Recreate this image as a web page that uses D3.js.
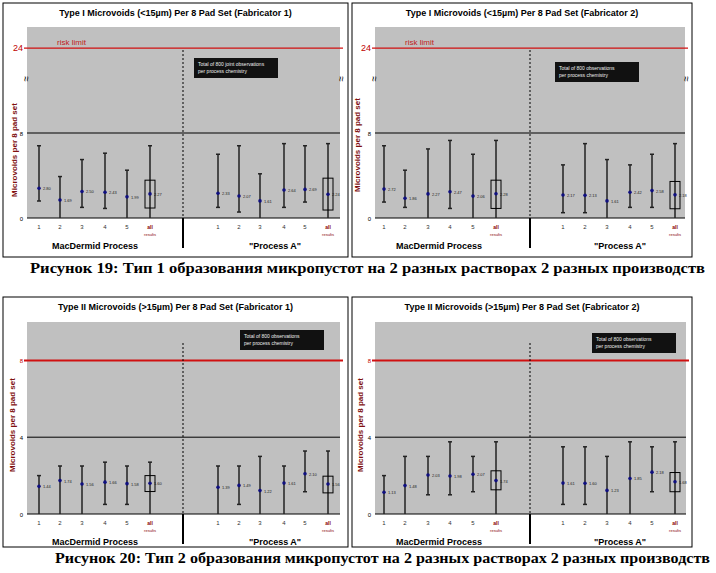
<!DOCTYPE html>
<html><head><meta charset="utf-8">
<script src="https://cdn.jsdelivr.net/npm/d3@7"></script>
<style>body{margin:0;background:#fff}</style>
</head><body>
<svg id="c" width="716" height="573"></svg>
<script>
var cats = ["1", "2", "3", "4", "5", "all"];
var groups = ["MacDermid Process", "\"Process A\""];

// mean, low, high per category; box low/high for "all"
var p1Mean = [2.80, 1.69, 2.50, 2.43, 1.99, 2.27, 2.33, 2.07, 1.61, 2.64, 2.69, 2.24];
var p1Low  = [1.6, 0, 1.0, 0.9, 0, 0, 1.0, 0.56, 0, 1.0, 1.5, 0];
var p1High = [6.8, 3.9, 5.5, 6.1, 4.5, 6.8, 6.0, 6.8, 4.16, 7.0, 6.8, 7.0];
var p1Box  = [[0.94, 3.56], [0.75, 3.75]];

var p2Mean = [2.72, 1.86, 2.27, 2.47, 2.06, 2.28, 2.17, 2.13, 1.61, 2.42, 2.58, 2.18];
var p2Low  = [1.5, 1.0, 0, 0.9, 0, 0, 0.5, 0.5, 0, 1.0, 1.0, 0];
var p2High = [6.8, 4.5, 6.5, 7.3, 6.0, 7.3, 5.0, 7.0, 5.5, 5.0, 6.0, 7.0];
var p2Box  = [[0.9, 3.56], [0.87, 3.44]];

var p3Mean = [1.44, 1.74, 1.56, 1.66, 1.58, 1.60, 1.39, 1.49, 1.22, 1.61, 2.10, 1.56];
var p3Low  = [0, 0, 0, 0.5, 0.5, 0, 0, 0.5, 0, 0, 1.16, 0];
var p3High = [2.0, 2.5, 2.5, 2.7, 2.5, 2.7, 2.5, 2.5, 3.0, 2.5, 3.28, 3.28];
var p3Box  = [[1.17, 2.0], [1.1, 1.97]];

var p4Mean = [1.13, 1.48, 2.03, 1.98, 2.07, 1.74, 1.61, 1.60, 1.23, 1.85, 2.18, 1.68];
var p4Low  = [0, 0, 1.0, 1.0, 1.16, 0, 0.5, 0.5, 0, 0, 1.16, 0];
var p4High = [2.0, 3.0, 3.0, 3.76, 3.0, 3.76, 3.5, 3.5, 3.0, 3.76, 3.5, 3.76];
var p4Box  = [[1.26, 2.25], [1.16, 2.16]];

var svg = d3.select("#c");
var font = "'Liberation Sans', Arial, sans-serif";

function panel(o) {
    var g = svg.append("g");
    g.append("rect").attr("x", o.bx).attr("y", o.by).attr("width", o.bw).attr("height", o.bh)
        .attr("fill", "#fff").attr("stroke", "#000");
    g.append("text").attr("x", o.bx + o.bw / 2).attr("y", o.by + 13).attr("text-anchor", "middle")
        .attr("font-family", font).attr("font-size", 9).attr("font-weight", "bold").text(o.title);
    g.append("rect").attr("x", o.x0).attr("y", o.top).attr("width", o.x1 - o.x0).attr("height", o.bottom - o.top)
        .attr("fill", "#c0c0c0");

    var y = d3.scaleLinear().domain(o.ydom).range(o.yrng);
    var xpos = function (i) { return o.xs[i]; };

    // grid lines
    g.append("line").attr("x1", o.x0).attr("x2", o.x1).attr("y1", y(o.mid)).attr("y2", y(o.mid)).attr("stroke", "#000");
    g.append("line").attr("x1", o.x0 - 3).attr("x2", o.x1 + 3).attr("y1", y(o.limit)).attr("y2", y(o.limit))
        .attr("stroke", "#d01010").attr("stroke-width", o.limitW);
    if (o.risk) g.append("text").attr("x", o.x0 + 30).attr("y", y(o.limit) - 3).attr("fill", "#c02020")
        .attr("font-family", font).attr("font-size", 8).text("risk limit");

    // axis labels
    [[0, "#000"], [o.mid, "#000"], [o.limit, "#c00000"]].forEach(function (t) {
        g.append("text").attr("x", o.x0 - 4).attr("y", y(t[0]) + 3).attr("text-anchor", "end")
            .attr("font-family", font).attr("font-size", t[0] === o.limit && o.risk ? 9 : 6).attr("fill", t[1]).text(t[0]);
    });
    g.append("line").attr("x1", o.x0).attr("x2", o.x1).attr("y1", o.bottom).attr("y2", o.bottom).attr("stroke", "#000");
    if (o.risk) {
        [o.x0 - 1, o.x1 + 1].forEach(function (bx) {
            g.append("text").attr("x", bx).attr("y", o.top + 52).attr("font-family", font).attr("font-size", 10)
                .attr("fill", "#000").attr("dominant-baseline", "middle")
                .attr("transform", "rotate(90," + bx + "," + (o.top + 52) + ")").attr("text-anchor", "middle").text("≈");
        });
    }
    g.append("text").attr("transform", "translate(" + o.ylx + "," + o.yly + ") rotate(-90)")
        .attr("text-anchor", "middle").attr("font-family", font).attr("font-size", 8).attr("font-weight", "bold")
        .attr("fill", "#801010").text("Microvoids per 8 pad set");

    // divider
    g.append("line").attr("x1", o.div).attr("x2", o.div).attr("y1", o.dashTop).attr("y2", o.bottom)
        .attr("stroke", "#000").attr("stroke-dasharray", "2,2");
    g.append("line").attr("x1", o.div).attr("x2", o.div).attr("y1", o.bottom).attr("y2", o.bottom + 30)
        .attr("stroke", "#000").attr("stroke-width", 2);

    // note box
    g.append("rect").attr("x", o.note[0]).attr("y", o.note[1]).attr("width", 84).attr("height", 20).attr("fill", "#111");
    g.append("text").attr("x", o.note[0] + 4).attr("y", o.note[1] + 8).attr("fill", "#eee")
        .attr("font-family", font).attr("font-size", 5).text(o.noteText);
    g.append("text").attr("x", o.note[0] + 4).attr("y", o.note[1] + 15).attr("fill", "#eee")
        .attr("font-family", font).attr("font-size", 5).text("per process   chemistry");

    // error bars
    o.mean.forEach(function (m, i) {
        var x = xpos(i);
        g.append("line").attr("x1", x).attr("x2", x).attr("y1", y(o.low[i])).attr("y2", y(o.high[i]))
            .attr("stroke", "#222").attr("stroke-width", 1.5);
        [o.low[i], o.high[i]].forEach(function (v) {
            if (v > 0) g.append("line").attr("x1", x - 2).attr("x2", x + 2).attr("y1", y(v)).attr("y2", y(v))
                .attr("stroke", "#222").attr("stroke-width", 1.5);
        });
        g.append("circle").attr("cx", x).attr("cy", y(m)).attr("r", 1.8).attr("fill", "#101080");
        g.append("text").attr("x", x + 4).attr("y", y(m) + 2).attr("font-family", font).attr("font-size", 4)
            .attr("fill", "#222").text(m.toFixed(2));
        var ci = i % 6;
        g.append("text").attr("x", x).attr("y", o.bottom + 11).attr("text-anchor", "middle").attr("font-family", font)
            .attr("font-size", ci === 5 ? 5 : 6).attr("font-weight", ci === 5 ? "bold" : "normal")
            .attr("fill", ci === 5 ? "#800" : "#333").text(cats[ci]);
        if (ci === 5) {
            g.append("text").attr("x", x).attr("y", o.bottom + 18).attr("text-anchor", "middle").attr("font-family", font)
                .attr("font-size", 4).attr("fill", "#800").text("results");
            var b = o.box[Math.floor(i / 6)];
            g.append("rect").attr("x", x - 5).attr("y", y(b[1])).attr("width", 10).attr("height", y(b[0]) - y(b[1]))
                .attr("fill", "none").attr("stroke", "#000");
        }
    });

    groups.forEach(function (gr, k) {
        g.append("text").attr("x", o.gx[k]).attr("y", o.bottom + 31).attr("text-anchor", "middle")
            .attr("font-family", font).attr("font-size", 9).attr("font-weight", "bold").text(gr);
    });
}

var xsA = [39, 60, 82, 105, 127, 150, 218, 239, 260, 284, 305, 328];
var xsB = [384, 405, 428, 450, 473, 496, 563, 585, 607, 630, 652, 675];

panel({bx: 3, by: 3, bw: 345, bh: 254, title: "Type I Microvoids (<15µm) Per 8 Pad Set (Fabricator 1)",
    x0: 27, x1: 340, top: 27, bottom: 218, ydom: [0, 8, 28], yrng: [218, 133, 27], mid: 8, limit: 24, limitW: 1.2, risk: true,
    xs: xsA, div: 183, dashTop: 50, note: [194, 58], noteText: "Total of 800 joint observations",
    ylx: 17, yly: 150, gx: [95, 275],
    mean: p1Mean, low: p1Low, high: p1High, box: p1Box});
panel({bx: 352, by: 3, bw: 340, bh: 254, title: "Type I Microvoids (<15µm) Per 8 Pad Set (Fabricator 2)",
    x0: 375, x1: 685, top: 27, bottom: 218, ydom: [0, 8, 28], yrng: [218, 133, 27], mid: 8, limit: 24, limitW: 1.2, risk: true,
    xs: xsB, div: 530, dashTop: 50, note: [555, 62], noteText: "Total of 800 observations",
    ylx: 360, yly: 145, gx: [439, 620],
    mean: p2Mean, low: p2Low, high: p2High, box: p2Box});
panel({bx: 3, by: 297, bw: 345, bh: 250, title: "Type II Microvoids (>15µm) Per 8 Pad Set (Fabricator 1)",
    x0: 27, x1: 340, top: 322, bottom: 514, ydom: [0, 10], yrng: [514, 322], mid: 4, limit: 8, limitW: 2, risk: false,
    xs: xsA, div: 183, dashTop: 343, note: [240, 330], noteText: "Total of 800 observations",
    ylx: 15, yly: 425, gx: [95, 275],
    mean: p3Mean, low: p3Low, high: p3High, box: p3Box});
panel({bx: 352, by: 297, bw: 340, bh: 250, title: "Type II Microvoids (>15µm) Per 8 Pad Set (Fabricator 2)",
    x0: 375, x1: 686, top: 322, bottom: 514, ydom: [0, 10], yrng: [514, 322], mid: 4, limit: 8, limitW: 2, risk: false,
    xs: xsB, div: 530, dashTop: 343, note: [592, 333], noteText: "Total of 800 observations",
    ylx: 363, yly: 425, gx: [439, 620],
    mean: p4Mean, low: p4Low, high: p4High, box: p4Box});

var capFont = "'Liberation Serif', 'Times New Roman', serif";
svg.append("text").attr("x", 30).attr("y", 273).attr("font-family", capFont).attr("font-size", 14).attr("font-weight", "bold")
    .attr("textLength", 675).attr("lengthAdjust", "spacingAndGlyphs")
    .text("Рисунок 19:  Тип 1 образования микропустот на 2 разных растворах 2 разных производств");
svg.append("text").attr("x", 55).attr("y", 563).attr("font-family", capFont).attr("font-size", 14).attr("font-weight", "bold")
    .attr("textLength", 655).attr("lengthAdjust", "spacingAndGlyphs")
    .text("Рисунок 20:  Тип 2 образования микропустот на 2 разных растворах 2 разных производств");
</script>
</body></html>
